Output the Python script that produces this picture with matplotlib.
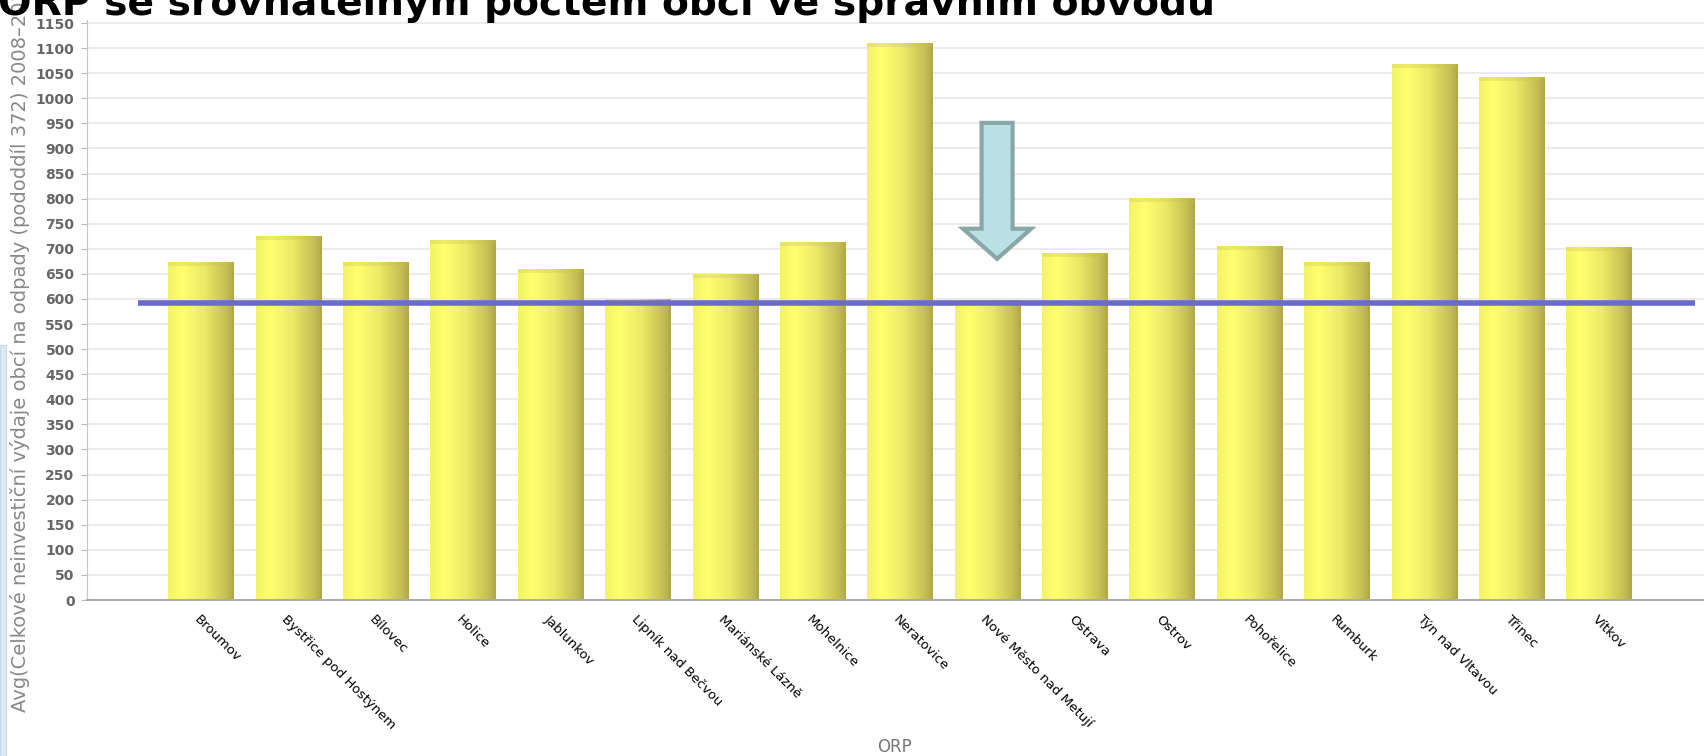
import numpy as np
import matplotlib.pyplot as plt
from matplotlib.colors import LinearSegmentedColormap
from matplotlib.patches import FancyArrow, Rectangle


# ORP a prumerne vydaje na odpady
orp = ['Broumov', 'Bystřice pod Hostýnem', 'Bílovec', 'Holice', 'Jablunkov',
       'Lipník nad Bečvou', 'Mariánské Lázně', 'Mohelnice', 'Neratovice',
       'Nové Město nad Metují', 'Ostrava', 'Ostrov', 'Pohořelice', 'Rumburk',
       'Týn nad Vltavou', 'Třinec', 'Vítkov']
avg_vydaje = [673, 725, 673, 717, 659, 600, 649, 714, 1111, 597,
              691, 801, 706, 673, 1068, 1042, 704]
prumer = 591
oznacene_orp = 'Nové Město nad Metují'
y_ticks = np.arange(0, 1151, 50)

title = 'ORP se srovnatelným počtem obcí ve správním obvodu'
y_label = 'Avg(Celkové neinvestiční výdaje obcí na odpady (pododdíl 372) 2008–2012)'
x_label = 'ORP'

W, H = 1704, 756
fig = plt.figure(figsize=(W / 100, H / 100), dpi=100)

# light blue strip of the slide on the left
fig.patches.append(Rectangle((0, 0), 6 / W, 1 - 345 / H, transform=fig.transFigure,
                             fc='#dde9f5', ec='#c5d8ec', lw=0.8))

ax = fig.add_axes([87 / W, 156 / H, (W - 87) / W, 580 / H])

x = np.arange(len(orp))
bars = ax.bar(x, avg_vydaje, width=0.75, color='#ffff70', zorder=2)

# yellow cylinder-like gradient
cmap = LinearSegmentedColormap.from_list(
    'valec', [(0, '#f2f266'), (0.22, '#ffff70'), (0.55, '#ecea66'),
              (0.88, '#c6bf55'), (1.0, '#afa748')])
grad = np.linspace(0, 1, 256).reshape(1, -1)
for b in bars:
    x0, w, h = b.get_x(), b.get_width(), b.get_height()
    im = ax.imshow(grad, cmap=cmap, extent=(x0, x0 + w, 0, h),
                   aspect='auto', zorder=2.1)
    im.set_clip_path(b)
# darker cap on top
ax.bar(x, 8, bottom=np.array(avg_vydaje) - 8, width=0.75,
       color='#c8c050', alpha=0.3, zorder=2.2)

ax.axhline(prumer, xmin=0.0315, xmax=0.9944, color='#6b6bcc', lw=4,
           solid_capstyle='butt', zorder=4)

# arrow pointing to the selected ORP
i = orp.index(oznacene_orp)
arrow = FancyArrow(i + 0.11, 951, 0, 680 - 951, width=0.355, head_width=0.78,
                   head_length=60, length_includes_head=True,
                   fc='#b9e0e3', ec='#8aa7a8', lw=3, zorder=5)
ax.add_patch(arrow)

ax.set_xlim(-1.305, 17.20)
ax.set_ylim(0, 1156)

ax.set_yticks(y_ticks)
ax.set_yticklabels([str(v) for v in y_ticks], fontweight='bold')
ax.tick_params(axis='y', length=4, color='#bbbbbb', labelcolor='#666666',
               labelsize=10, pad=5)
ax.set_xticks(x)
ax.set_xticklabels(orp, rotation=-45, ha='left', va='top',
                   rotation_mode='anchor', fontsize=9.5)
ax.tick_params(axis='x', length=0, pad=9)

ax.yaxis.grid(True, color='#ebebeb', lw=1.3)
ax.set_axisbelow(True)
for s in ['top', 'right']:
    ax.spines[s].set_visible(False)
ax.spines['left'].set_color('#c4c4c4')
ax.spines['bottom'].set_color('#aaaaaa')
ax.spines['bottom'].set_linewidth(1.4)

fig.text(20 / W, 1 - 712 / H, y_label, rotation=90, rotation_mode='anchor',
         ha='left', va='center', color='#888888', fontsize=14)
fig.text(895 / W, 1 - 747 / H, x_label, ha='center', va='center',
         color='#777777', fontsize=12)

t = fig.text(-2 / W, 1 - 15 / H, title, fontweight='bold', fontsize=30,
             ha='left', va='baseline', color='black')
fig.canvas.draw()
bb = t.get_window_extent()
t.set_fontsize(30 * 1217 / bb.width)

fig.savefig('out.png', dpi=100)
